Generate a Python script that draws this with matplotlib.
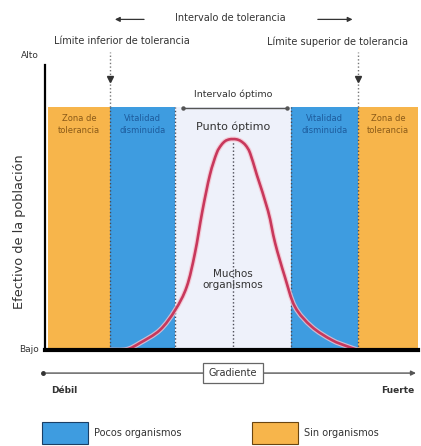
import matplotlib
matplotlib.use("Agg")
import matplotlib.pyplot as plt
from matplotlib.patches import Patch, PathPatch
from matplotlib.path import Path

# ---------------- data ----------------
zone_edges = [0.8, 17.4, 34.9, 66.0, 83.9, 100.0]
zone_kinds = ["sin", "pocos", "optimo", "pocos", "sin"]
zone_labels = ["Zona de\ntolerancia", "Vitalidad\ndisminuida", "",
               "Vitalidad\ndisminuida", "Zona de\ntolerancia"]
optimum_x = 50.4

curve_x = [17.4, 21.9, 25.5, 30.8, 34.9, 38.0, 40.2, 42.2, 44.2, 46.0, 47.2,
           48.3, 49.4, 50.4, 51.4, 52.5, 53.8, 55.0, 56.8, 59.8, 61.7, 64.3,
           67.0, 71.5, 76.9, 81.2, 83.9]
curve_y = [0.0, 0.2, 2.5, 7.0, 14.0, 22.2, 34.0, 48.8, 61.4, 69.0, 71.8,
           73.3, 73.9, 74.0, 73.9, 73.3, 71.8, 69.0, 61.4, 48.8, 37.5, 25.7,
           15.2, 8.2, 3.5, 1.2, 0.0]

legend_labels = ["Pocos organismos", "Sin organismos"]

# ---------------- style ----------------
C_ORANGE = "#f7b54b"
C_BLUE = "#3e9ce0"
C_LIGHT = "#eef1fa"
C_CURVE = "#c8385c"
C_TEXT = "#333333"
C_DOT = "#4a4a55"
zone_colors = {"sin": C_ORANGE, "pocos": C_BLUE, "optimo": C_LIGHT}
label_colors = {"sin": "#8a5a18", "pocos": "#1d5b9c", "optimo": C_TEXT}
band_top = 85.3

fig = plt.figure(figsize=(4.21, 4.46), dpi=100)
fig.patch.set_facecolor("white")
ax = fig.add_axes([45 / 421, 1 - 350 / 446, 373 / 421, 285 / 446])
ax.set_xlim(0, 100)
ax.set_ylim(0, 100)
ax.set_facecolor("white")

# bands
for i, kind in enumerate(zone_kinds):
    ax.axvspan(zone_edges[i], zone_edges[i + 1], ymin=0, ymax=band_top / 100,
               color=zone_colors[kind], lw=0, zorder=1)
    if zone_labels[i]:
        ax.text((zone_edges[i] + zone_edges[i + 1]) / 2, 79.2, zone_labels[i],
                ha="center", va="center", fontsize=6, color=label_colors[kind],
                linespacing=1.35, zorder=5)

# dotted boundaries
inner_edges = zone_edges[1:-1]
ax.vlines(inner_edges, 0, band_top, colors=C_DOT, linestyles=(0, (1, 1.6)),
          lw=1.0, zorder=3)
ax.vlines([optimum_x], 0, 73.0, colors=C_DOT, linestyles=(0, (1, 1.6)),
          lw=1.0, zorder=3)

# tolerance limit markers (outer edges of the "pocos" zones)
lim_x = [zone_edges[1], zone_edges[4]]
ax.vlines(lim_x, band_top, 104.5, colors="#777777", linestyles=(0, (1, 1.6)),
          lw=1.0, zorder=3, clip_on=False)
ax.plot(lim_x, [95.0, 95.0], ls="none", marker="v", ms=4, color="#333333",
        zorder=4, clip_on=False)

# curve drawn as a smooth path through the read points
pts = list(zip(curve_x, curve_y))
verts = [pts[0]]
codes = [Path.MOVETO]
for i in range(len(pts) - 1):
    p0 = pts[i - 1] if i > 0 else pts[i]
    p1 = pts[i]
    p2 = pts[i + 1]
    p3 = pts[i + 2] if i + 2 < len(pts) else pts[i + 1]
    c1 = (p1[0] + (p2[0] - p0[0]) / 6, p1[1] + (p2[1] - p0[1]) / 6)
    c2 = (p2[0] - (p3[0] - p1[0]) / 6, p2[1] - (p3[1] - p1[1]) / 6)
    verts += [c1, c2, p2]
    codes += [Path.CURVE4] * 3
curve_path = Path(verts, codes)
ax.add_patch(PathPatch(curve_path, fill=False, ec="#f4c3cf", lw=3.6,
                       alpha=0.8, zorder=3))
ax.add_patch(PathPatch(curve_path, fill=False, ec=C_CURVE, lw=1.9, zorder=4))

# spines
for s in ["top", "right"]:
    ax.spines[s].set_visible(False)
ax.spines["left"].set_linewidth(1.6)
ax.spines["bottom"].set_linewidth(3.0)
ax.spines["left"].set_zorder(6)
ax.spines["bottom"].set_zorder(6)
ax.set_xticks([])
ax.set_yticks([])

# axis texts
ax.text(-1.6, 103.5, "Alto", ha="right", va="center", fontsize=6.5,
        color=C_TEXT, clip_on=False)
ax.text(-1.6, 0.0, "Bajo", ha="right", va="center", fontsize=6.5,
        color=C_TEXT, clip_on=False)
ax.text(-6.8, 41.5, "Efectivo de la población", rotation=90, ha="center",
        va="center", fontsize=9.3, color=C_TEXT, clip_on=False)

# top annotations
ax.text(49.6, 116.6, "Intervalo de tolerancia", ha="center", va="center",
        fontsize=7, color=C_TEXT, clip_on=False)
ax.annotate("", xy=(18.0, 116.0), xytext=(27.3, 116.0),
            arrowprops=dict(arrowstyle="-|>", color="#333333", lw=0.9,
                            mutation_scale=7), annotation_clip=False)
ax.annotate("", xy=(83.2, 116.0), xytext=(72.4, 116.0),
            arrowprops=dict(arrowstyle="-|>", color="#333333", lw=0.9,
                            mutation_scale=7), annotation_clip=False)
ax.text(20.6, 108.3, "Límite inferior de tolerancia", ha="center", va="center",
        fontsize=7, color=C_TEXT, clip_on=False)
ax.text(78.5, 108.3, "Límite superior de tolerancia", ha="center", va="center",
        fontsize=7, color=C_TEXT, clip_on=False)

# optimum interval
ax.text(optimum_x, 89.6, "Intervalo óptimo", ha="center", va="center",
        fontsize=6.8, color=C_TEXT, zorder=5)
ax.plot([37.0, 64.9], [85.0, 85.0], color="#555555", lw=1.0, marker="o",
        ms=2.2, zorder=5)
ax.text(optimum_x, 78.3, "Punto óptimo", ha="center", va="center",
        fontsize=8, color=C_TEXT, zorder=5)
ax.text(optimum_x, 24.6, "Muchos\norganismos", ha="center", va="center",
        fontsize=7.5, color=C_TEXT, linespacing=1.1, zorder=5)

# gradient arrow
ax.annotate("", xy=(100.2, -8.1), xytext=(-0.5, -8.1),
            arrowprops=dict(arrowstyle="-|>", color="#555555", lw=1.0,
                            mutation_scale=7), annotation_clip=False)
ax.plot([-0.5], [-8.1], marker="o", ms=2.5, color="#333333", clip_on=False)
ax.text(optimum_x, -8.1, "Gradiente", ha="center", va="center", fontsize=7,
        color=C_TEXT, clip_on=False, zorder=7,
        bbox=dict(boxstyle="square,pad=0.55", fc="white", ec="#666666", lw=0.9))
ax.text(5.1, -14.2, "Débil", ha="center", va="center", fontsize=6.5,
        color=C_TEXT, fontweight="bold", clip_on=False)
ax.text(94.6, -14.2, "Fuerte", ha="center", va="center", fontsize=6.5,
        color=C_TEXT, fontweight="bold", clip_on=False)

# legend
handles = [Patch(facecolor=C_BLUE, edgecolor="#1a3f66", lw=0.8),
           Patch(facecolor=C_ORANGE, edgecolor="#6a4510", lw=0.8)]
fig.legend(handles, legend_labels, loc="center left",
           bbox_to_anchor=(42 / 421, 1 - 433 / 446), ncol=2, frameon=False,
           fontsize=7, handlelength=4.7, handleheight=3.2, handletextpad=0.7,
           columnspacing=7.2, borderpad=0, borderaxespad=0,
           labelcolor=C_TEXT)

fig.savefig("out.png", dpi=100)
